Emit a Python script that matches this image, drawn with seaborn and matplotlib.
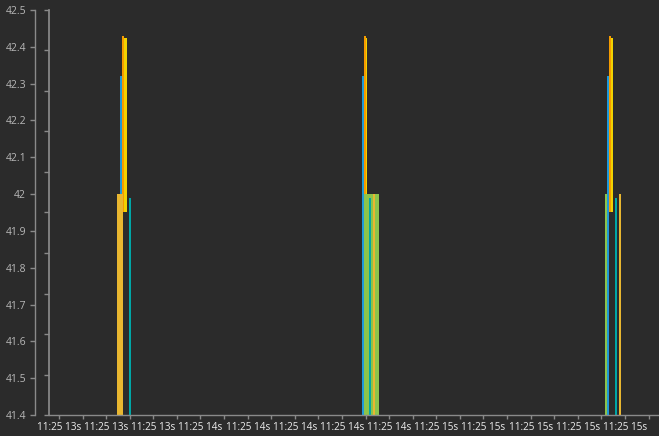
import numpy as np
import matplotlib
matplotlib.use("Agg")
import matplotlib.pyplot as plt
import seaborn as sns

# Samples: time (seconds past 11:25), low and high value, sample duration (s)
blue_t = [13.6587, 14.6850, 15.7240]
blue_lo = [41.4, 41.4, 41.4]
blue_hi = [42.32, 42.32, 42.32]
blue_dur = [0.0085, 0.0085, 0.0085]

orange_t = [13.6672, 14.6935, 15.7325]
orange_lo = [41.95, 41.95, 41.95]
orange_hi = [42.43, 42.43, 42.43]
orange_dur = [0.0085, 0.0085, 0.0085]

yellow_t = [13.6757, 14.7020, 15.7410]
yellow_lo = [41.95, 41.95, 41.95]
yellow_hi = [42.425, 42.425, 42.425]
yellow_dur = [0.0127, 0.0042, 0.0085]

green_t = [14.6935, 15.7155]
green_lo = [41.4, 41.4]
green_hi = [42.0, 42.0]
green_dur = [0.0636, 0.0085]

gold_t = [13.6460, 14.7316, 15.7750]
gold_lo = [41.4, 41.4, 41.4]
gold_hi = [42.0, 42.0, 42.0]
gold_dur = [0.0254, 0.0085, 0.0085]

teal_t = [13.6969, 14.7146, 15.7579]
teal_lo = [41.4, 41.4, 41.4]
teal_hi = [41.99, 41.99, 41.99]
teal_dur = [0.0085, 0.0085, 0.0085]

tick_times = [13.4 + 0.1 * k for k in range(26)]
tick_labels = ["11:25 13s", "", "11:25 13s", "", "11:25 13s", "",
               "11:25 14s", "", "11:25 14s", "", "11:25 14s", "",
               "11:25 14s", "", "11:25 14s", "", "11:25 15s", "",
               "11:25 15s", "", "11:25 15s", "", "11:25 15s", "",
               "11:25 15s", "", ]
y_ticks = [41.4, 41.5, 41.6, 41.7, 41.8, 41.9, 42.0, 42.1, 42.2, 42.3, 42.4, 42.5]

bg = "#2b2b2b"
axis_col = "#8a8a8a"
sns.set_theme(style="dark", rc={
    "figure.facecolor": bg, "axes.facecolor": bg,
    "axes.edgecolor": axis_col, "xtick.color": axis_col, "ytick.color": axis_col,
})
plt.rcParams["font.family"] = ["Open Sans", "DejaVu Sans"]

PX = 72 / 100  # points per pixel
fig = plt.figure(figsize=(6.59, 4.36), dpi=100)
W, H = 659, 436
ax = fig.add_axes([49 / W, 21 / H, 610 / W, 405 / H])

series = [
    (blue_t, blue_lo, blue_hi, blue_dur, "#1e98d8"),
    (orange_t, orange_lo, orange_hi, orange_dur, "#f59b00"),
    (yellow_t, yellow_lo, yellow_hi, yellow_dur, "#f2d200"),
    (green_t, green_lo, green_hi, green_dur, "#8cc34b"),
    (gold_t, gold_lo, gold_hi, gold_dur, "#e9b730"),
    (teal_t, teal_lo, teal_hi, teal_dur, "#00a6a6"),
]
for t, lo, hi, dur, col in series:
    ax.bar(t, np.array(hi) - np.array(lo), bottom=lo, width=dur,
           align="edge", color=col, linewidth=0)

ax.set_xlim(13.3576, 15.9445)
ax.set_ylim(41.4, 42.5)
ax.set_yticks(y_ticks)
ax.set_yticklabels([f"{v:g}" for v in y_ticks])
ax.set_xticks(tick_times)
ax.set_xticklabels(tick_labels)
ax.tick_params(axis="y", length=5 * PX, width=1, pad=4 * PX, direction="out", left=True,
               labelsize=7.5, labelcolor="#b8b8b8")
ax.tick_params(axis="x", length=4 * PX, width=1, pad=3 * PX, direction="out", bottom=True,
               labelsize=7.2, labelcolor="#ececec")
ax.spines["left"].set_position(("outward", 14 * PX))
ax.spines["top"].set_visible(False)
ax.spines["right"].set_visible(False)
for s in ["left", "bottom"]:
    ax.spines[s].set_color(axis_col)
    ax.spines[s].set_linewidth(1)
ax.grid(False)

# inner unlabeled scale
ax2 = ax.twinx()
ax2.set_ylim(0, 10)
ax2.set_yticks(range(11))
ax2.yaxis.set_ticks_position("left")
ax2.spines["left"].set_position(("outward", 0))
ax2.spines["left"].set_visible(True)
ax2.spines["left"].set_color(axis_col)
for s in ["top", "right", "bottom"]:
    ax2.spines[s].set_visible(False)
ax2.tick_params(axis="y", length=5 * PX, width=1, direction="out", labelleft=False,
                labelright=False, left=True, right=False, color=axis_col)
ax2.grid(False)

fig.savefig("out.png", dpi=100, facecolor=bg)
